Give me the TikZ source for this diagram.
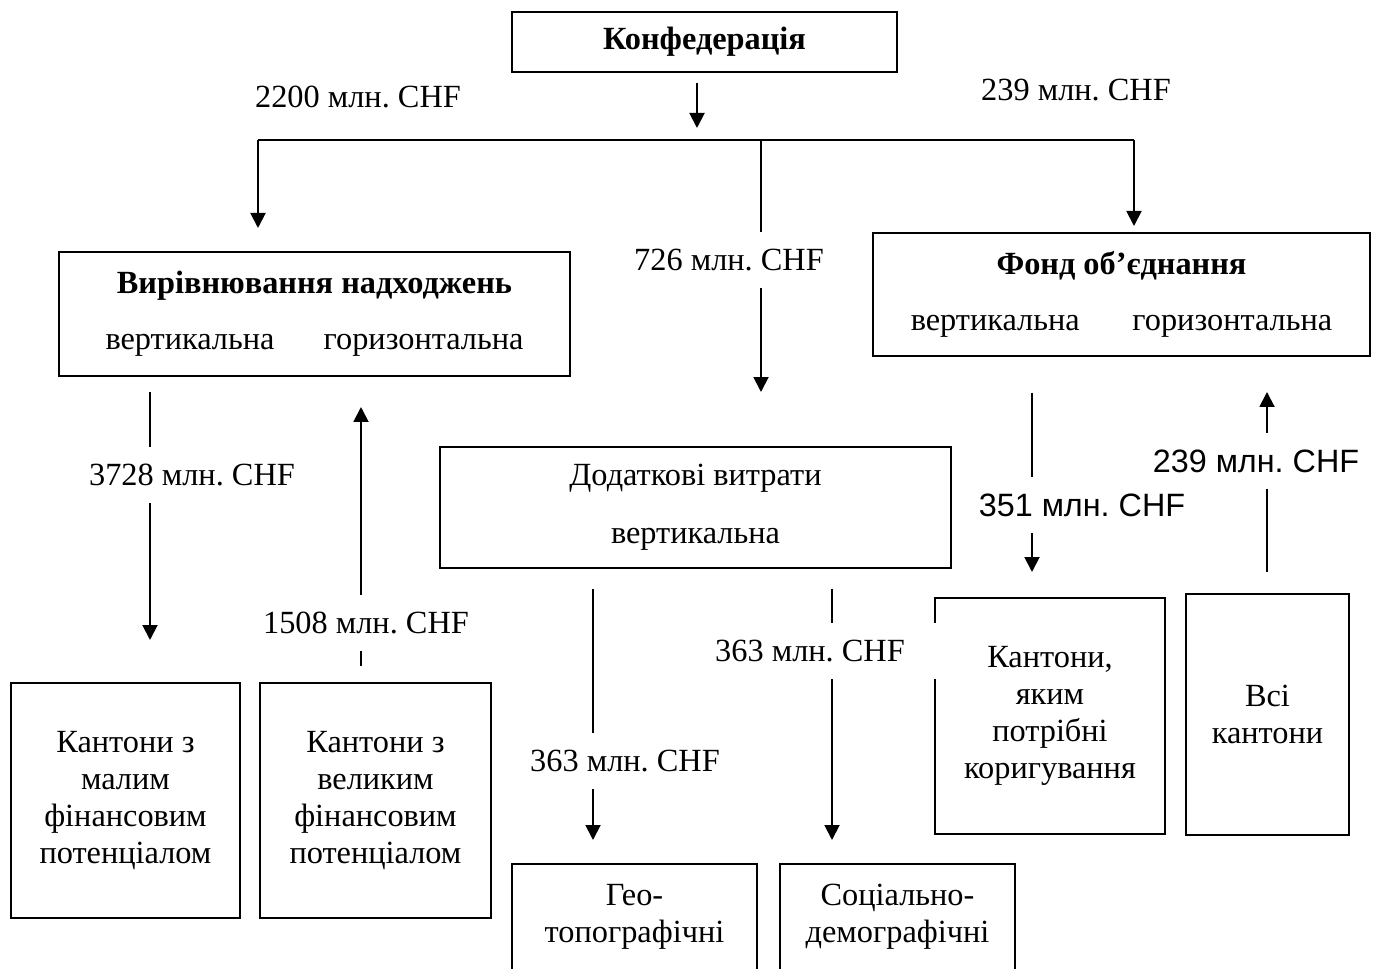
\documentclass[tikz,border=0pt]{standalone}
\usepackage{fontspec}
\setmainfont{Liberation Serif}
\newfontfamily\arialfont{Liberation Sans}
\usetikzlibrary{arrows.meta}
\frenchspacing

\begin{document}
\begin{tikzpicture}[
	x=0.02cm, y=-0.02cm,
	font=\fontsize{18.4}{21}\selectfont,
	cell/.style={
		rectangle,
		draw,
		line width=1.4pt,
		align=center,
		inner sep=0pt,
	},
	cellopen/.style={% boxes that run past the lower edge
		cell,
		anchor=north,
		inner ysep=0.4cm,
		text depth=3cm,
	},
	chf/.style={
		fill=white,
		inner xsep=2pt,
		inner ysep=0pt,
		minimum height=1.14cm,
	},
	chfsans/.style={
		chf,
		font=\fontsize{18.4}{21}\arialfont,
	},
	ArrowW/.style={% Arrows with a filled head
		line width=1.1pt,
		-{Triangle[width=0.3cm,length=0.3cm]},
	},
]

\path[use as bounding box, clip] (0,0) rectangle (1377,969);

\node[cell, minimum width=7.7cm, minimum height=1.2cm] (conf) at (704.5,42) {\textbf{Конфедерація}};
\node[cell, minimum width=10.22cm, minimum height=2.48cm] (vyr) at (314.5,314) {\textbf{Вирівнювання надходжень}\\[11pt] вертикальна\hspace{28pt}горизонтальна};
\node[cell, minimum width=9.94cm, minimum height=2.46cm] (fond) at (1121.5,294.5) {\textbf{Фонд об’єднання}\\[11pt] вертикальна\hspace{30pt}горизонтальна};
\node[cell, minimum width=10.22cm, minimum height=2.42cm] (dod) at (695.5,507.5) {Додаткові витрати\\[12pt] вертикальна};

\node[cell, minimum width=4.58cm, minimum height=4.7cm] (mal) at (125.5,800.5) {Кантони з\\малим\\фінансовим\\потенціалом};
\node[cell, minimum width=4.62cm, minimum height=4.7cm] (vel) at (375.5,800.5) {Кантони з\\великим\\фінансовим\\потенціалом};
\node[cell, minimum width=4.6cm, minimum height=4.72cm] (kor) at (1050,716) {Кантони,\\яким\\потрібні\\коригування};
\node[cell, minimum width=3.26cm, minimum height=4.82cm] (all) at (1267.5,714.5) {Всі\\кантони};
\node[cellopen, minimum width=4.9cm] (geo) at (634.5,863) {Гео-\\топографічні};
\node[cellopen, minimum width=4.7cm] (soc) at (897.5,863) {Соціально-\\демографічні};

% ends of the arrows
\coordinate (c1) at (697,83);
\coordinate (c2) at (697,128);
\coordinate (busl) at (258,140);
\coordinate (busm) at (761,140);
\coordinate (busr) at (1134,140);
\coordinate (vyrin) at (258,228);
\coordinate (dodin) at (761,392);
\coordinate (fondin) at (1134,226);
\coordinate (v1) at (150,392);
\coordinate (v2) at (150,640);
\coordinate (h1) at (361,666);
\coordinate (h2) at (361,407);
\coordinate (d1) at (593,589);
\coordinate (d2) at (593,840);
\coordinate (d3) at (832,589);
\coordinate (d4) at (832,840);
\coordinate (f1) at (1032,393);
\coordinate (f2) at (1032,572);
\coordinate (f3) at (1267,572);
\coordinate (f4) at (1267,392);

\draw[ArrowW] (c1) -- (c2);
\draw[line width=1.1pt] (busl) -- (busr);
\draw[ArrowW] (busl) -- (vyrin);
\draw[ArrowW] (busm) -- (dodin);
\draw[ArrowW] (busr) -- (fondin);
\draw[ArrowW] (v1) -- (v2);
\draw[ArrowW] (h1) -- (h2);
\draw[ArrowW] (d1) -- (d2);
\draw[ArrowW] (d3) -- (d4);
\draw[ArrowW] (f1) -- (f2);
\draw[ArrowW] (f3) -- (f4);

% sums
\node[chf] (s2200) at (358,97) {2200 млн. CHF};
\node[chf] (s239a) at (1076,90) {239 млн. CHF};
\node[chf] (s726) at (729,260) {726 млн. CHF};
\node[chf] (s3728) at (192,475) {3728 млн. CHF};
\node[chf] (s1508) at (366,623) {1508 млн. CHF};
\node[chf] (s363a) at (625,761) {363 млн. CHF};
\node[chf, minimum width=5.08cm] (s363b) at (810,651) {363 млн. CHF};
\node[chfsans] (s351) at (1082,505) {351 млн. CHF};
\node[chfsans] (s239b) at (1256,461) {239 млн. CHF};

\end{tikzpicture}
\end{document}
